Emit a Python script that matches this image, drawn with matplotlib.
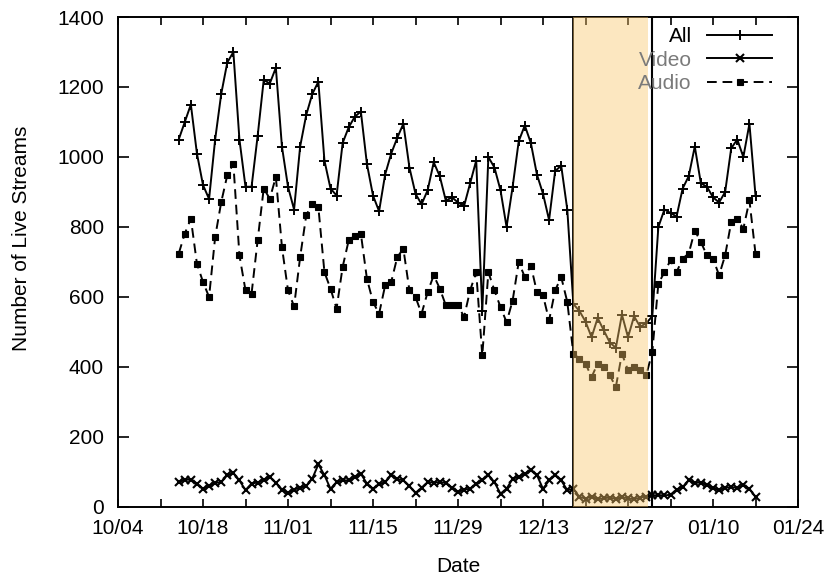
"""
Daily number of live streams (all, video, audio) over the holiday period.
"""

import numpy as np
import pandas as pd
import matplotlib as mpl
mpl.use('Agg')
import matplotlib.pyplot as plt
import matplotlib.dates as mdates


# daily samples starting 10/14:
start_day = '2008-10-14'
all_streams = [1050, 1100, 1150, 1010, 920, 880, 1050, 1180, 1270, 1300,
               1050, 915, 915, 1060, 1220, 1210, 1255, 1030, 915, 850,
               1030, 1120, 1180, 1215, 990, 910, 890, 1040, 1085, 1115,
               1130, 980, 890, 845, 950, 1010, 1055, 1095, 970, 895,
               865, 905, 985, 945, 875, 885, 870, 860, 925, 990,
               560, 1000, 970, 905, 800, 915, 1045, 1090, 1040, 950,
               895, 820, 960, 975, 850, 580, 560, 530, 485, 540,
               505, 470, 455, 550, 485, 545, 515, 525, 545, 800,
               850, 840, 830, 910, 945, 1030, 925, 915, 885, 870,
               900, 1025, 1050, 1000, 1095, 890]
video_streams = [71, 78, 78, 67, 52, 60, 69, 71, 91, 97,
                 76, 48, 67, 70, 78, 86, 69, 50, 40, 50,
                 55, 60, 81, 122, 91, 52, 71, 76, 76, 85,
                 95, 67, 52, 65, 71, 91, 80, 76, 60, 40,
                 55, 71, 70, 71, 69, 55, 43, 50, 52, 67,
                 76, 91, 71, 38, 52, 81, 86, 95, 105, 91,
                 52, 76, 91, 76, 48, 52, 29, 24, 30, 22,
                 25, 27, 23, 28, 25, 22, 27, 30, 33, 34,
                 33, 35, 50, 57, 76, 69, 70, 62, 55, 48,
                 55, 57, 55, 62, 52, 29]
audio_streams = [724, 781, 824, 695, 643, 600, 771, 871, 948, 981,
                 719, 619, 610, 762, 910, 881, 943, 743, 619, 573,
                 714, 833, 867, 857, 671, 624, 567, 686, 762, 775,
                 781, 652, 586, 552, 633, 643, 714, 738, 619, 600,
                 552, 614, 662, 624, 576, 576, 576, 543, 619, 671,
                 433, 671, 619, 571, 528, 590, 700, 657, 690, 614,
                 605, 533, 619, 657, 586, 438, 424, 410, 371, 410,
                 400, 376, 343, 438, 391, 400, 391, 376, 443, 638,
                 671, 705, 671, 710, 724, 790, 757, 719, 710, 662,
                 719, 814, 824, 795, 876, 724]

# holiday period:
holiday_start = '2008-12-18'
holiday_end = '2008-12-30 07:00'
holiday_mark = '2008-12-31'

x_range = ('2008-10-04', '2009-01-24')
y_ticks = np.arange(0, 1401, 200)


def main():
    plt.rcParams['font.family'] = ['Liberation Sans', 'DejaVu Sans']
    plt.rcParams['font.size'] = 15

    fig = plt.figure(figsize=(8.28, 5.76), dpi=100)
    ax = fig.add_axes([118/828, 1 - 507/576, 680/828, 490/576])

    days = pd.date_range(start_day, periods=len(all_streams), freq='D')
    lw = 1.4
    ax.plot(days, all_streams, '-', color='k', lw=lw, marker='+',
            ms=7.5, mew=1.4, label='All', zorder=2)
    ax.plot(days, video_streams, '-', color='k', lw=lw, marker='x',
            ms=5.5, mew=1.5, label='Video', zorder=2)
    ax.plot(days, audio_streams, color='k', lw=lw, ls=(0, (5, 3)),
            marker='s', ms=5, mew=0.8, label='Audio', zorder=2)

    # holiday shading drawn on top of the curves:
    t0 = pd.Timestamp(holiday_start)
    ax.axvline(t0, color='k', lw=1.3, zorder=2)
    ax.axvspan(t0 - pd.Timedelta(hours=3), pd.Timestamp(holiday_end),
               color='#FAC669', alpha=0.42, lw=0, zorder=3)
    ax.axvline(pd.Timestamp(holiday_mark), color='k', lw=1.5, zorder=4)

    ax.set_xlim(pd.Timestamp(x_range[0]), pd.Timestamp(x_range[1]))
    ax.set_ylim(0, 1400)
    ax.set_xticks(pd.date_range(x_range[0], x_range[1], freq='14D'))
    ax.set_xticks(pd.date_range(x_range[0], x_range[1], freq='7D'), minor=True)
    ax.xaxis.set_major_formatter(mdates.DateFormatter('%m/%d'))
    ax.set_yticks(y_ticks)
    ax.tick_params(which='both', direction='in', top=True, right=True,
                   width=1.2, color='k')
    ax.tick_params(axis='x', which='both', length=6, pad=9)
    ax.tick_params(axis='x', which='minor', labelbottom=False)
    ax.tick_params(axis='y', length=8, pad=10)
    for sp in ax.spines.values():
        sp.set_linewidth(1.4)

    fig.text(22/828, 1 - 238/576, 'Number of Live Streams', rotation=90,
             ha='center', va='center')
    fig.text(458/828, 1 - 566/576, 'Date', ha='center', va='center')

    leg = ax.legend(loc='upper right', bbox_to_anchor=(772/828, 1 - 27/576),
                    bbox_transform=fig.transFigure, frameon=False,
                    markerfirst=False, handlelength=3.1, handletextpad=0.75,
                    labelspacing=0.22, borderpad=0, borderaxespad=0,
                    numpoints=1)
    leg.set_zorder(5)
    for t in leg.get_texts()[1:]:
        t.set_color('#7a7a7a')

    fig.savefig('out.png', dpi=100)


if __name__ == "__main__":
    main()
